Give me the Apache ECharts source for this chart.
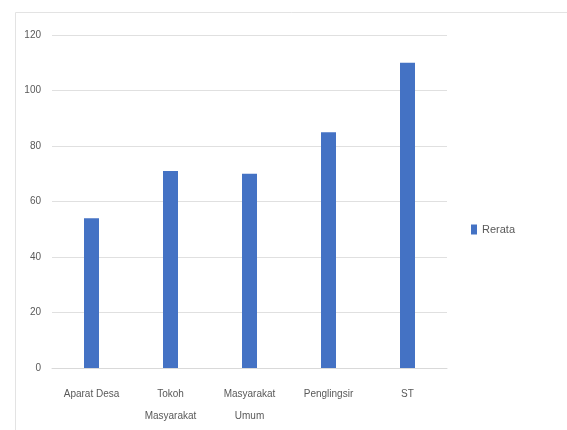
<!DOCTYPE html>
<html>
<head>
<meta charset="utf-8">
<script src="https://cdn.jsdelivr.net/npm/echarts@6/dist/echarts.min.js"></script>
<style>
  html, body { margin: 0; padding: 0; background: #fff; }
  #chart { width: 567px; height: 430px; }
</style>
</head>
<body>
<div id="chart"></div>
<script>
// Respondent groups and their average scores
const categories = ['Aparat Desa', 'Tokoh\nMasyarakat', 'Masyarakat\nUmum', 'Penglingsir', 'ST'];
const rerata = [54, 71, 70, 85, 110];
const seriesName = 'Rerata';
const yTicks = [0, 20, 40, 60, 80, 100, 120];

const font = '"Liberation Sans Narrow", "Liberation Sans", Arial, sans-serif';
const textColor = '#595959';

const chart = echarts.init(document.getElementById('chart'), null, { renderer: 'canvas' });
chart.setOption({
  backgroundColor: '#fff',
  animation: false,
  graphic: [{
    type: 'rect',
    shape: { x: 15.5, y: 12.5, width: 600, height: 500 },
    style: { fill: 'none', stroke: '#e3e3e3', lineWidth: 1 },
    silent: true
  }],
  grid: { left: 52, right: 120, top: 35, bottom: 62, containLabel: false },
  legend: {
    data: [seriesName],
    orient: 'vertical',
    left: 466,
    top: 219,
    itemWidth: 6,
    itemHeight: 10,
    itemGap: 4,
    icon: 'rect',
    textStyle: { color: textColor, fontSize: 11, fontFamily: font }
  },
  xAxis: {
    type: 'category',
    data: categories,
    axisLine: { show: true, lineStyle: { color: '#d9d9d9' } },
    axisTick: { show: false },
    axisLabel: {
      color: textColor, fontSize: 10, fontFamily: font,
      margin: 15, lineHeight: 22, interval: 0
    }
  },
  yAxis: {
    type: 'value',
    min: 0, max: 120, interval: 20,
    axisLine: { show: false },
    axisTick: { show: false },
    axisLabel: {
      color: textColor, fontSize: 10, fontFamily: font, margin: 11,
      formatter: v => (yTicks.includes(v) ? String(v) : '')
    },
    splitLine: { lineStyle: { color: '#e0e0e0', width: 1 } }
  },
  series: [{
    name: seriesName,
    type: 'bar',
    data: rerata,
    barWidth: 15,
    itemStyle: { color: '#4472C4' }
  }]
});
</script>
</body>
</html>
